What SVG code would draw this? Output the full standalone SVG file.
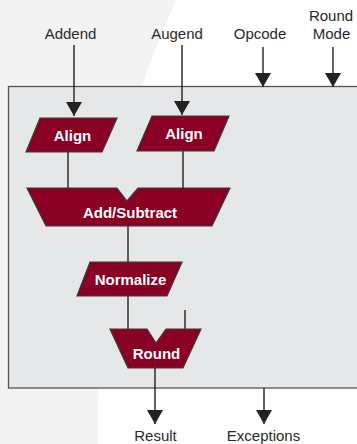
<svg xmlns="http://www.w3.org/2000/svg" width="357" height="444" viewBox="0 0 357 444">
<style>
.lbl{font-family:"Liberation Sans",Arial,sans-serif;font-size:15px;fill:#2a2a2a;text-anchor:middle}
.blk{fill:#8a0022;stroke:#3a3a3a;stroke-width:1.2}
.btx{font-family:"Liberation Sans",Arial,sans-serif;font-size:15px;font-weight:bold;fill:#ffffff;text-anchor:middle}
.wire{stroke:#222;stroke-width:1.4;fill:none}
</style>
<defs>
<marker id="ah" viewBox="0 0 14 16" refX="14" refY="8" markerWidth="14" markerHeight="16" markerUnits="userSpaceOnUse" orient="auto">
<path d="M0,0 L14,8 L0,16 z" fill="#222"/>
</marker>
</defs>
<rect width="357" height="444" fill="#ffffff"/>
<path d="M0,0 L176,0 C150,60 130,110 115,200 C105,270 98,330 98,444 L0,444 z" fill="#f3f3f3"/>
<g id="container">
<rect x="8.5" y="86.5" width="360" height="301.5" fill="#e6e7e9" stroke="#555" stroke-width="1.3"/>
</g>
<g id="connectors">
<line class="wire" x1="74" y1="45" x2="74" y2="116" marker-end="url(#ah)"/>
<line class="wire" x1="182" y1="45" x2="182" y2="115" marker-end="url(#ah)"/>
<line class="wire" x1="263" y1="47" x2="263" y2="87" marker-end="url(#ah)"/>
<line class="wire" x1="333" y1="47" x2="333" y2="87" marker-end="url(#ah)"/>
<line class="wire" x1="68" y1="152" x2="68" y2="188"/>
<line class="wire" x1="183" y1="151" x2="183" y2="188"/>
<line class="wire" x1="128" y1="226" x2="128" y2="262"/>
<line class="wire" x1="128" y1="296" x2="128" y2="329"/>
<line class="wire" x1="185" y1="310" x2="185" y2="329"/>
<line class="wire" x1="155" y1="368" x2="155" y2="424" marker-end="url(#ah)"/>
<line class="wire" x1="264" y1="388" x2="264" y2="424" marker-end="url(#ah)"/>
</g>
<g id="labels">
<text class="lbl" x="70.5" y="39">Addend</text>
<text class="lbl" x="177" y="39">Augend</text>
<text class="lbl" x="260" y="39">Opcode</text>
<text class="lbl" x="331" y="21">Round</text>
<text class="lbl" x="331.5" y="39">Mode</text>
<text class="lbl" x="155.5" y="441">Result</text>
<text class="lbl" x="263.5" y="441">Exceptions</text>
</g>
<g id="align1">
<polygon class="blk" points="40,118 117,118 102,152 26,152"/>
<text class="btx" x="72.5" y="141">Align</text>
</g>
<g id="align2">
<polygon class="blk" points="152,116 229,116 214,151 137,151"/>
<text class="btx" x="184" y="139">Align</text>
</g>
<g id="addsub">
<polygon class="blk" points="27,188 117,188 127,201 138,188 230,188 212,226 46,226"/>
<text class="btx" x="130" y="218">Add/Subtract</text>
</g>
<g id="normalize">
<polygon class="blk" points="90,262 182,262 167,296 77,296"/>
<text class="btx" x="130.5" y="285">Normalize</text>
</g>
<g id="round">
<polygon class="blk" points="110,329 147,329 156,343 166,329 201,329 183,368 128,368"/>
<text class="btx" x="156.5" y="359">Round</text>
</g>
</svg>
